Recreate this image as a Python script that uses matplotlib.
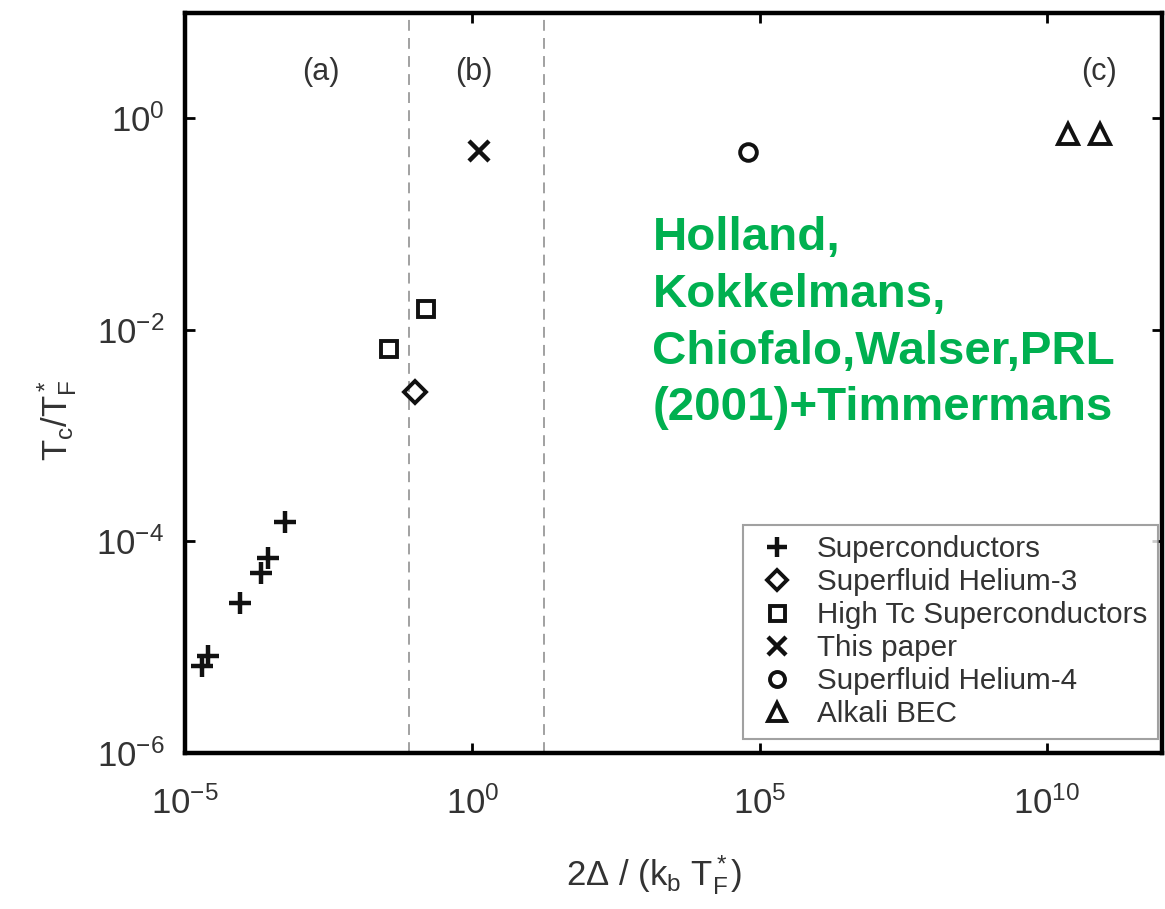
import numpy as np
import matplotlib
matplotlib.use("Agg")
import matplotlib.pyplot as plt

plt.rcParams.update({
    "font.family": ["Liberation Sans", "DejaVu Sans"],
    "mathtext.fontset": "custom",
    "mathtext.rm": "Liberation Sans",
    "mathtext.it": "Liberation Sans",
    "mathtext.default": "regular",
    "axes.linewidth": 3.2,
})

# 2*gap / (k_b T_F*) vs T_c / T_F* for each class of superfluid
sc_x = [5.4e-4, 2.8e-4, 2.1e-4, 8.9e-5, 2.5e-5, 1.95e-5]
sc_y = [1.53e-4, 6.9e-5, 5.0e-5, 2.6e-5, 8.3e-6, 6.6e-6]
he3_x = [0.10]
he3_y = [0.0026]
htc_x = [0.155, 0.035]
htc_y = [0.0158, 0.0066]
paper_x = [1.3]
paper_y = [0.49]
he4_x = [6.2e4]
he4_y = [0.48]
bec_x = [2.4e10, 8.5e10]
bec_y = [0.71, 0.71]

series = [
    (sc_x, sc_y, "+", "Superconductors", 16),
    (he3_x, he3_y, "D", "Superfluid Helium-3", 11),
    (htc_x, htc_y, "s", "High Tc Superconductors", 12),
    (paper_x, paper_y, "x", "This paper", 15),
    (he4_x, he4_y, "o", "Superfluid Helium-4", 12),
    (bec_x, bec_y, "^", "Alkali BEC", 14),
]

region_bounds = [0.08, 18]
region_labels = ["(a)", "(b)", "(c)"]
region_label_x = [2.3e-3, 1.05, 8.0e10]

fig = plt.figure(figsize=(11.65, 9.09), dpi=100)
ax = fig.add_axes([0.159, 0.172, 0.838, 0.814])
ax.set_xscale("log")
ax.set_yscale("log")
ax.set_xlim(1e-5, 1e12)
ax.set_ylim(1e-6, 1e1)

for xb in region_bounds:
    ax.axvline(xb, color="#9a9a9a", lw=1.3, ls=(0, (6, 4)), zorder=1)

for x, y, m, lab, ms in series:
    if m == "+" or m == "x":
        ax.plot(x, y, ls="none", marker=m, ms=ms, mew=3.2, color="#111111", label=lab)
    else:
        ax.plot(x, y, ls="none", marker=m, ms=ms, mew=2.8, mfc="none", mec="#111111", label=lab)

for xt, t in zip(region_label_x, region_labels):
    ax.text(xt, 10**0.44, t, fontsize=22, color="#333333", ha="center", va="center")

ax.set_xticks([1e-5, 1e0, 1e5, 1e10])
ax.set_yticks([1e-6, 1e-4, 1e-2, 1e0])
ax.minorticks_off()
ax.tick_params(which="major", direction="in", length=7, width=2, top=True, right=True,
               labelsize=25, labelcolor="#333333")
ax.tick_params(axis="x", pad=24)
ax.tick_params(axis="y", pad=15)

ax.set_xlabel(r"2Δ / (k$_b$ T$_F^*$)", fontsize=25, color="#333333")
ax.xaxis.set_label_coords(0.48, -0.135)
ax.set_ylabel(r"T$_c$/T$_F^*$", fontsize=25, color="#333333")
ax.yaxis.set_label_coords(-0.109, 0.45)

leg = ax.legend(loc="lower right", bbox_to_anchor=(0.996, 0.019), fontsize=21.3, frameon=True,
                fancybox=False, edgecolor="#8a8a8a", labelspacing=0.17, handletextpad=0.55,
                borderpad=0.35, borderaxespad=0.0, handlelength=1.6, markerscale=0.9)
leg.get_frame().set_linewidth(1.5)
for t in leg.get_texts():
    t.set_color("#333333")

fig.text(0.56, 0.762, "Holland,\nKokkelmans,\nChiofalo,Walser,PRL\n(2001)+Timmermans",
         fontsize=34.2, fontweight="bold", color="#00b050", ha="left", va="top",
         linespacing=1.37)

fig.savefig("out.png", dpi=100)
